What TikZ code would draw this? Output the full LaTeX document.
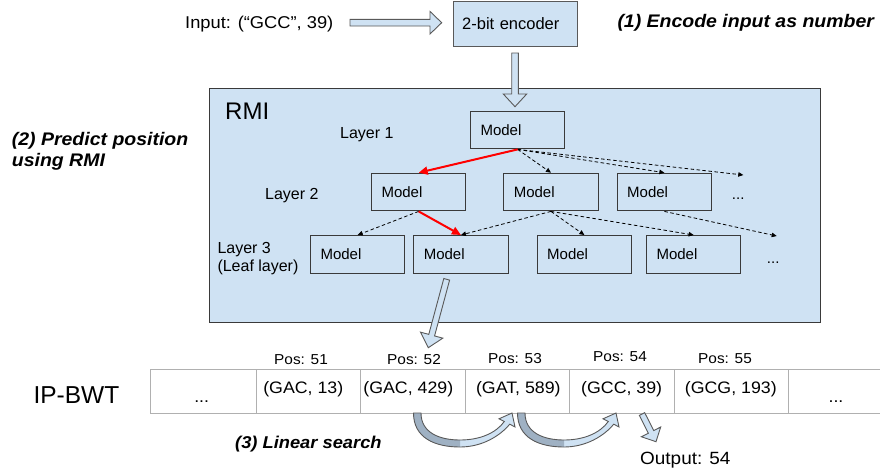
\documentclass[tikz,border=0pt]{standalone}
\usepackage{fontspec}
\setmainfont{Liberation Sans}
\newfontfamily\widefont[FakeStretch=1.07]{Liberation Sans}
\usetikzlibrary{arrows.meta,calc}
\definecolor{lblue}{HTML}{CFE2F3}
\definecolor{bline}{HTML}{3A3A3A}
\definecolor{aline}{HTML}{595959}
\definecolor{tline}{HTML}{B0B0B0}
\definecolor{dband}{HTML}{9FB1C3}
\newcommand{\fs}[1]{\fontsize{#1}{#1}\selectfont}
\newcommand{\blockarrow}[5]{%
  \coordinate (bH) at ($(#2)!#5!(#1)$);
  \filldraw[barrow] ($(#1)!#3!90:(#2)$) -- ($(bH)!#3!90:(#2)$) -- ($(bH)!#4!90:(#2)$) -- (#2)
    -- ($(bH)!#4!-90:(#2)$) -- ($(bH)!#3!-90:(#2)$) -- ($(#1)!#3!-90:(#2)$) -- cycle;}
\newcommand{\curvedshape}{(413.5,413) .. controls (413.5,438) and (435,447) .. (460,447)
  .. controls (482,447) and (500,436) .. (509.7,424.2) -- (515,426.9) -- (512,413) -- (499,418.8)
  -- (504.3,421.5) .. controls (496,433) and (480,440) .. (460,440)
  .. controls (440,440) and (421,433) .. (421,413) -- cycle}
\newcommand{\curvedarrow}[1]{%
  \begin{scope}[xshift=#1]
    \fill[lblue] \curvedshape;
    \begin{scope}
      \clip (400,400) rectangle (460,460);
      \fill[dband] \curvedshape;
    \end{scope}
    \draw[aline, line width=0.9pt, line join=miter] \curvedshape;
  \end{scope}}
\tikzset{
  barrow/.style={fill=lblue, draw=aline, line width=0.9pt, line join=miter},
  mbox/.style={draw=bline, line width=1pt, minimum width=94.3pt, minimum height=37.7pt,
    inner xsep=10pt, inner ysep=0pt, text width=74.3pt, align=left, anchor=north west,
    font=\fs{15}},
  darr/.style={draw=black, line width=0.8pt, dash pattern=on 3.5pt off 2.5pt,
    -{Triangle[length=5pt,width=4.5pt]}},
  rarr/.style={draw=red, line width=2pt, -{Triangle[length=9pt,width=8pt]}},
  tcell/.style={draw=tline, line width=1pt, minimum height=43.4pt, inner sep=0pt, anchor=north west},
  ctext/.style={anchor=base, inner sep=0pt, font=\widefont\fs{16.6}},
  poslbl/.style={anchor=base, inner sep=0pt, font=\widefont\fs{14.4}},
  laylbl/.style={anchor=base west, inner sep=0pt, font=\fs{16}},
  stepnote/.style={anchor=base west, inner sep=0pt, font=\widefont\bfseries\itshape\fs{18.2}}
}
\begin{document}
\begin{tikzpicture}[x=1pt, y=-1pt]
\useasboundingbox (0,0) rectangle (880,469);

% input and encoder
\node[anchor=base west, inner sep=0pt, font=\widefont\fs{17.1}] (inp) at (185,28) {Input: (“GCC”, 39)};
\node[draw=aline, fill=lblue, line width=1pt, minimum width=124.6pt, minimum height=45pt,
  inner xsep=9pt, inner ysep=0pt, text width=106.6pt, align=left, anchor=north west,
  font=\fs{16.5}] (enc) at (452.7,1) {2-bit encoder};
\node[anchor=base west, inner sep=0pt, font=\widefont\bfseries\itshape\fs{18.2}] (s1) at (617.3,27.5) {(1) Encode input as number};
\coordinate (ia) at (350,22.7);
\coordinate (ib) at (441.7,22.7);
\blockarrow{ia}{ib}{3.3pt}{11.3pt}{11.7pt}

% RMI box
\node[draw=bline, fill=lblue, line width=1pt, minimum width=611pt, minimum height=233.4pt,
  anchor=north west, inner sep=0pt] (rmi) at (209.3,88.3) {};
\coordinate (da) at (515,53);
\coordinate (db) at (515,106.7);
\blockarrow{da}{db}{3.3pt}{11.7pt}{12.7pt}
\node[anchor=base west, inner sep=0pt, font=\fs{24}] (rmilbl) at (225,119.3) {RMI};
\node[stepnote] (s2a) at (11.7,145) {(2) Predict position};
\node[stepnote] (s2b) at (11.7,166) {using RMI};

\node[laylbl] (lay1) at (340,138.3) {Layer 1};
\node[laylbl] (lay2) at (265,199.3) {Layer 2};
\node[laylbl] (lay3) at (217.3,253.3) {Layer 3};
\node[laylbl] (leaf) at (217.3,271.7) {(Leaf layer)};

\node[mbox] (L1) at (470,110.7) {Model};
\node[mbox] (L2a) at (371,172.7) {Model};
\node[mbox] (L2b) at (503.3,172.7) {Model};
\node[mbox] (L2c) at (616.7,172.7) {Model};
\node[mbox] (L3a) at (310,235) {Model};
\node[mbox] (L3b) at (413.3,235) {Model};
\node[mbox] (L3c) at (536.7,235) {Model};
\node[mbox] (L3d) at (646,235) {Model};
\node[anchor=base west, inner sep=0pt, font=\fs{15}] (dots2) at (731.7,199) {...};
\node[anchor=base west, inner sep=0pt, font=\fs{15}] (dots3) at (766.7,263.3) {...};
\coordinate (d2tip) at (743.3,175);
\coordinate (d3tip) at (776.7,236);

\draw[darr] (L1.south) -- (L2b.north);
\draw[darr] (L1.south) -- (L2c.north);
\draw[darr] (L1.south) -- (d2tip);
\draw[rarr] (L1.south) -- (L2a.north);
\draw[darr] (L2a.south) -- (L3a.north);
\draw[darr] (L2b.south) -- (L3b.north);
\draw[darr] (L2b.south) -- (L3c.north);
\draw[darr] (L2b.south) -- (L3d.north);
\draw[darr] (L2c.south) -- (d3tip);
\draw[rarr] (L2a.south) -- (L3b.north);

\coordinate (ra) at (446.7,279.3);
\coordinate (rb) at (428.3,347.7);
\blockarrow{ra}{rb}{3pt}{11.5pt}{13pt}

% table
\node[anchor=base west, inner sep=0pt, font=\fs{24.5}] (ipbwt) at (33.3,403.3) {IP-BWT};
\node[tcell, minimum width=105.7pt] (c0) at (150,369.3) {};
\node[tcell, minimum width=104.3pt] (c1) at (255.7,369.3) {};
\node[tcell, minimum width=105pt] (c2) at (360,369.3) {};
\node[tcell, minimum width=104.3pt] (c3) at (465,369.3) {};
\node[tcell, minimum width=105pt] (c4) at (569.3,369.3) {};
\node[tcell, minimum width=113.4pt] (c5) at (674.3,369.3) {};
\node[tcell, minimum width=100pt] (c6) at (787.7,369.3) {};
\node[ctext] (t0) at (201.7,402) {...};
\node[ctext] (t1) at (303.3,393) {(GAC, 13)};
\node[ctext] (t2) at (408.3,393) {(GAC, 429)};
\node[ctext] (t3) at (518.3,393) {(GAT, 589)};
\node[ctext] (t4) at (621.7,393) {(GCC, 39)};
\node[ctext] (t5) at (730.8,393) {(GCG, 193)};
\node[ctext] (t6) at (836,402) {...};
\node[poslbl] (p1) at (301,364) {Pos: 51};
\node[poslbl] (p2) at (414,364.3) {Pos: 52};
\node[poslbl] (p3) at (515,363) {Pos: 53};
\node[poslbl] (p4) at (620,361) {Pos: 54};
\node[poslbl] (p5) at (725,363) {Pos: 55};

\curvedarrow{0pt}
\curvedarrow{104pt}

\node[stepnote, font=\widefont\bfseries\itshape\fs{17.1}] (s3) at (235,448) {(3) Linear search};
\node[anchor=base west, inner sep=0pt, font=\widefont\fs{17.7}] (out) at (640,464) {Output: 54};
\coordinate (oa) at (642,414);
\coordinate (ob) at (656,441.7);
\blockarrow{oa}{ob}{3pt}{10.8pt}{11pt}
\end{tikzpicture}
\end{document}
